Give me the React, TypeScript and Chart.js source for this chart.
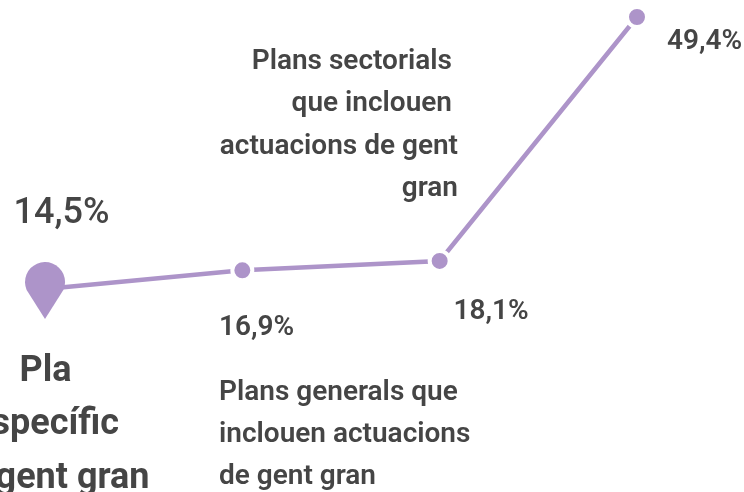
import React, { useEffect, useRef } from "react";
import { Chart, registerables } from "chart.js";

Chart.register(...registerables);

const categories = ["Pla específic gent gran", "Plans generals", "Plans sectorials", "Total"];
const values = [14.5, 16.9, 18.1, 49.4];
const valueLabels = ["14,5%", "16,9%", "18,1%", "49,4%"];
const COLOR = "#ad94c9";
const TEXT = "#454545";

type Note = { t: string; x: number; y: number; size: number; align: CanvasTextAlign; weight?: number };
const notes: Note[] = [
  { t: valueLabels[0], x: 13.5, y: 214, size: 36, align: "left", weight: 500 },
  { t: valueLabels[1], x: 219, y: 328, size: 28, align: "left", weight: 600 },
  { t: valueLabels[2], x: 453.5, y: 312, size: 28, align: "left", weight: 600 },
  { t: valueLabels[3], x: 667, y: 42, size: 28, align: "left", weight: 600 },
  { t: "Plans sectorials", x: 452, y: 62, size: 28, align: "right", weight: 600 },
  { t: "que inclouen", x: 452, y: 104, size: 28, align: "right", weight: 600 },
  { t: "actuacions de gent", x: 458, y: 147, size: 28, align: "right", weight: 600 },
  { t: "gran", x: 458, y: 189, size: 28, align: "right", weight: 600 },
  { t: "Plans generals que", x: 219, y: 393, size: 28, align: "left", weight: 600 },
  { t: "inclouen actuacions", x: 219, y: 435, size: 28, align: "left", weight: 600 },
  { t: "de gent gran", x: 219, y: 477, size: 28, align: "left", weight: 600 },
  { t: "Pla", x: 45.5, y: 372, size: 36, align: "center", weight: 700 },
  { t: "específic", x: 45.5, y: 425, size: 36, align: "center", weight: 700 },
  { t: "gent gran", x: 149.5, y: 479, size: 36, align: "right", weight: 700 },
];

function pinCanvas(): HTMLCanvasElement {
  const c = document.createElement("canvas");
  c.width = 44;
  c.height = 60;
  const g = c.getContext("2d")!;
  g.fillStyle = COLOR;
  g.beginPath();
  g.arc(22, 23, 20, Math.PI * 0.87, Math.PI * 0.13);
  g.lineTo(22, 60);
  g.closePath();
  g.fill();
  return c;
}

const textPlugin = {
  id: "notes",
  afterDraw(chart: Chart) {
    const g = chart.ctx;
    g.save();
    g.fillStyle = TEXT;
    g.textBaseline = "middle";
    for (const n of notes) {
      g.font = `${n.weight ?? 500} ${n.size}px Roboto`;
      g.textAlign = n.align;
      g.fillText(n.t, n.x, n.y);
    }
    g.restore();
  },
};

export default function App() {
  const ref = useRef<HTMLCanvasElement>(null);
  useEffect(() => {
    document.body.style.margin = "0";
    const pin = pinCanvas();
    const chart = new Chart(ref.current!, {
      type: "line",
      data: {
        labels: categories,
        datasets: [
          {
            data: values,
            borderColor: COLOR,
            borderWidth: 4.5,
            tension: 0,
            clip: false,
            backgroundColor: COLOR,
            pointRadius: [1, 10, 10, 10],
            pointHoverRadius: [1, 10, 10, 10],
            pointBorderWidth: 4,
            pointBorderColor: "#ffffff",
            pointStyle: [pin as any, "circle", "circle", "circle"],
          },
        ],
      },
      options: {
        animation: false,
        responsive: false,
        layout: { autoPadding: false, padding: { left: 45, right: 107, top: 17, bottom: 203 } },
        plugins: { legend: { display: false }, tooltip: { enabled: false } },
        scales: {
          x: { display: false, offset: false },
          y: { display: false, min: 14.5, max: 49.4 },
        },
      },
      plugins: [textPlugin],
    });
    return () => chart.destroy();
  }, []);
  return (
    <div style={{ position: "relative", width: 744, height: 492 }}>
      <canvas ref={ref} width={744} height={492} style={{ display: "block" }} />
    </div>
  );
}
